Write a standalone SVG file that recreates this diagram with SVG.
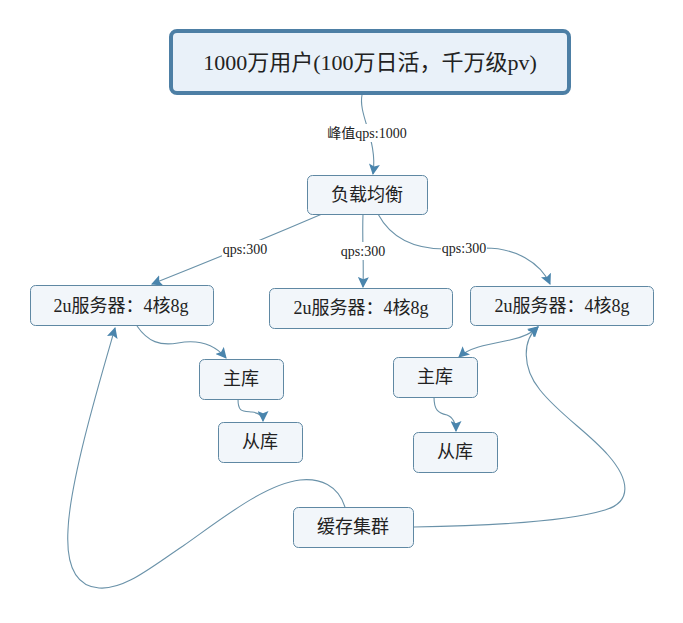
<svg xmlns="http://www.w3.org/2000/svg" width="683" height="623" viewBox="0 0 683 623">
<style>
.node rect{fill:#f2f6fa;stroke:#5f88a3;stroke-width:1}
.node text{font-family:"Liberation Serif","Noto Sans CJK SC",serif;font-size:18px;fill:#222;text-anchor:middle}
.conn path{fill:none;stroke:#6a92a9;stroke-width:1.1}
.lbl rect{fill:#fff}
.lbl text{font-family:"Liberation Serif","Noto Sans CJK SC",serif;font-size:14px;fill:#222;text-anchor:middle}
</style>
<defs>
<marker id="arr" viewBox="0 0 10 10" refX="9" refY="5" markerWidth="11" markerHeight="11" markerUnits="userSpaceOnUse" orient="auto-start-reverse">
<path d="M0,0 L10,5 L0,10 L2,5 z" fill="#4a85ad"/>
</marker>
</defs>
<rect width="683" height="623" fill="#fff"/>
<g class="conn">
<path d="M362,95 C358,115 378,140 373,174" marker-end="url(#arr)"/>
<path d="M322,214 Q245,247 152,284" marker-end="url(#arr)"/>
<path d="M363,214 C362,240 364,260 363,287" marker-end="url(#arr)"/>
<path d="M378,214 C392,240 418,249 445,249 L485,248 C515,248 540,262 550,284" marker-end="url(#arr)"/>
<path d="M137,326 C148,342 160,346 178,343 C200,339 215,345 226,358" marker-end="url(#arr)"/>
<path d="M238,399 C238,412 242,411 252,412 C260,413 263,416 263,421" marker-end="url(#arr)"/>
<path d="M459,357 C470,347 490,344 510,340 C525,337 532,333 538,327" marker-start="url(#arr)" marker-end="url(#arr)"/>
<path d="M434,397 C434,410 438,413 447,415 C453,417 456,424 456,431" marker-end="url(#arr)"/>
<path d="M345,507 C338,485 320,478 300,480 C265,484 220,520 183,546 C150,568 124,590 99,588 C75,586 66,565 68,530 C70,480 100,380 115,328" marker-end="url(#arr)"/>
<path d="M414,527 C480,526 565,522 605,510 C632,502 630,480 608,455 C588,432 560,415 540,390 C522,368 522,340 538,327" marker-end="url(#arr)"/>
</g>
<g class="lbl">
<rect x="326" y="124" width="82" height="18"/>
<text x="367" y="138">峰值qps:1000</text>
<rect x="222" y="240" width="46" height="18"/>
<text x="245" y="254">qps:300</text>
<rect x="340" y="242" width="46" height="18"/>
<text x="363" y="256">qps:300</text>
<rect x="441" y="239" width="46" height="18"/>
<text x="464" y="253">qps:300</text>
</g>
<g id="top" class="node">
<rect x="171" y="31" width="398" height="62" rx="6" style="fill:#e9f1f9;stroke:#4d7fa5;stroke-width:4"/>
<text x="370" y="70" style="font-size:22px">1000万用户(100万日活，千万级pv)</text>
</g>
<g id="lb" class="node">
<rect x="307.5" y="175.5" width="120" height="39" rx="5"/>
<text x="367" y="201">负载均衡</text>
</g>
<g id="s1" class="node">
<rect x="30.5" y="285.5" width="183" height="40" rx="5"/>
<text x="121" y="312">2u服务器：4核8g</text>
</g>
<g id="s2" class="node">
<rect x="269.5" y="288.5" width="183" height="40" rx="5"/>
<text x="361" y="314">2u服务器：4核8g</text>
</g>
<g id="s3" class="node">
<rect x="470.5" y="286.5" width="183" height="39" rx="5"/>
<text x="562" y="312">2u服务器：4核8g</text>
</g>
<g id="m1" class="node">
<rect x="199.5" y="359.5" width="84" height="40" rx="5"/>
<text x="241" y="385">主库</text>
</g>
<g id="sl1" class="node">
<rect x="218.5" y="422.5" width="84" height="40" rx="5"/>
<text x="260" y="448">从库</text>
</g>
<g id="m2" class="node">
<rect x="393.5" y="357.5" width="84" height="40" rx="5"/>
<text x="435" y="383">主库</text>
</g>
<g id="sl2" class="node">
<rect x="413.5" y="432.5" width="84" height="40" rx="5"/>
<text x="455" y="458">从库</text>
</g>
<g id="cache" class="node">
<rect x="293.5" y="507.5" width="120" height="40" rx="5"/>
<text x="353" y="533">缓存集群</text>
</g>
</svg>
